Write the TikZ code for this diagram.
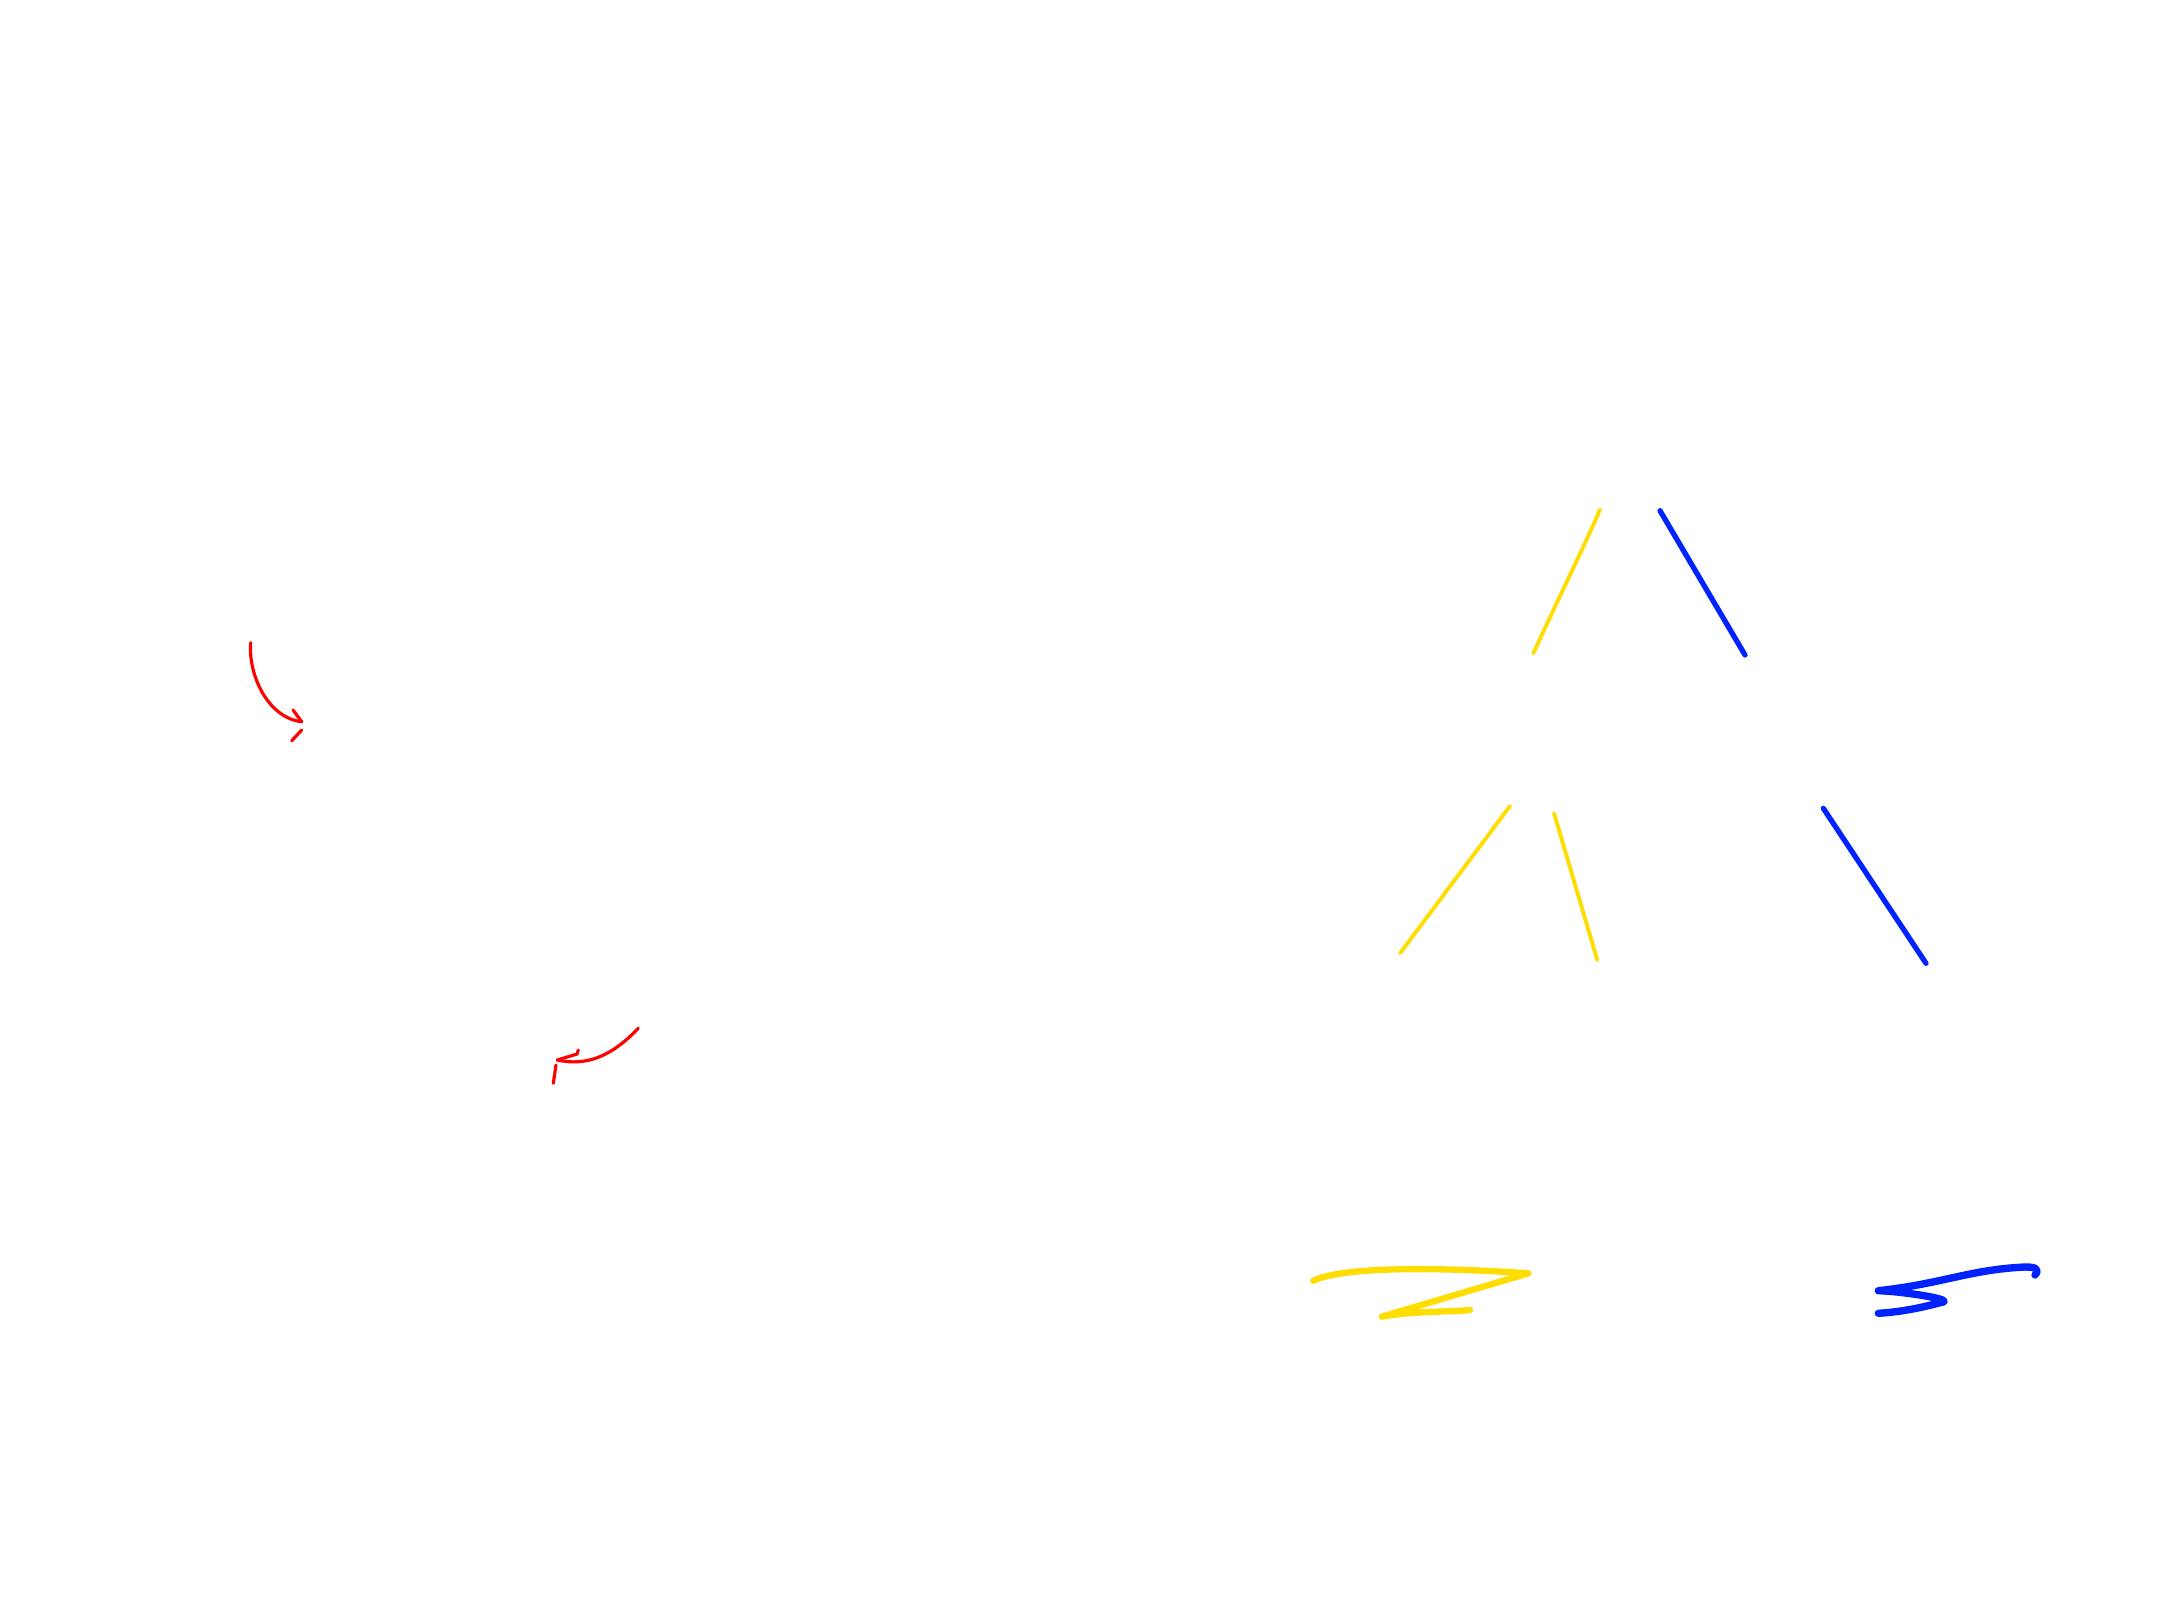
\documentclass[tikz,border=0pt]{standalone}
\definecolor{penred}{HTML}{FF0000}
\definecolor{penyellow}{HTML}{FFDD00}
\definecolor{penblue}{HTML}{0022FF}
\begin{document}
\begin{tikzpicture}[x=0.01cm,y=-0.01cm,
  redpen/.style={draw=penred,line width=0.9pt,line cap=round,line join=round},
  yelpen/.style={draw=penyellow,line width=1.1pt,line cap=round,line join=round},
  bluepen/.style={draw=penblue,line width=1.5pt,line cap=round,line join=round},
  yelthick/.style={draw=penyellow,line width=1.8pt,line cap=round,line join=round},
  bluethick/.style={draw=penblue,line width=2.1pt,line cap=round,line join=round}]
\fill[white] (0,0) rectangle (2160,1620);
\useasboundingbox (0,0) rectangle (2160,1620);
% red arrow 1
\draw[redpen] (250.7,642.7) .. controls (248,675) and (268,718) .. (301.7,721.7);
\draw[redpen] (293,710) -- (301.7,721.7);
\draw[redpen] (301.7,730) -- (291.7,740.7);
% red arrow 2
\draw[redpen] (638.3,1028.3) .. controls (610,1058) and (585,1066) .. (557.3,1060);
\draw[redpen] (578.3,1050) -- (577,1054) -- (557.3,1060);
\draw[redpen] (556,1065) -- (553.3,1083.3);
% yellow lines
\draw[yelpen] (1600,509.3) .. controls (1590,534) and (1560,595) .. (1533.3,653.3);
\draw[yelpen] (1510,806) -- (1400,953.3);
\draw[yelpen] (1554,813.3) -- (1597.3,960);
% blue lines
\draw[bluepen] (1660,510.7) -- (1745,655);
\draw[bluepen] (1823.3,808.3) -- (1926,963.3);
% yellow Z
\draw[yelthick] (1313.3,1280.7) .. controls (1340,1268) and (1420,1266) .. (1528.3,1273.3)
  -- (1381.7,1316.7) .. controls (1410,1311) and (1450,1312) .. (1470,1310);
% blue squiggle
\draw[bluethick] (2035,1275) .. controls (2040,1269) and (2036,1266) .. (2020,1267.3)
  .. controls (1970,1270) and (1940,1284) .. (1878.3,1290.7)
  .. controls (1900,1291) and (1960,1300) .. (1940,1302.7)
  .. controls (1920,1308) and (1900,1312) .. (1878.3,1313.3);
\end{tikzpicture}
\end{document}
